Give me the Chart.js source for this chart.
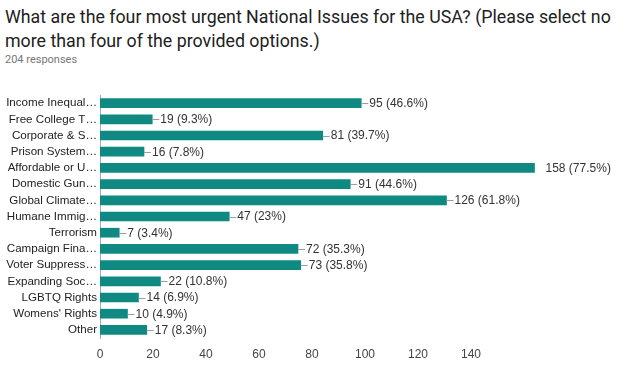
<!DOCTYPE html>
<html>
<head>
<meta charset="utf-8">
<script src="https://cdn.jsdelivr.net/npm/chart.js@4"></script>
<style>
  body { margin: 0; background: #fff; width: 621px; height: 367px; overflow: hidden; position: relative; }
  .title { position: absolute; left: 5px; top: 5px; font-family: Roboto, sans-serif; font-size: 17.8px; line-height: 24px; color: #212121; white-space: nowrap; }
  .sub { position: absolute; left: 5px; top: 53px; font-family: Roboto, sans-serif; font-size: 11px; color: #777; }
  .wrap { position: absolute; left: 0; top: 80px; width: 621px; height: 287px; }
</style>
</head>
<body>
<div class="title">What are the four most urgent National Issues for the USA? (Please select no<br>more than four of the provided options.)</div>
<div class="sub">204 responses</div>
<div class="wrap"><canvas id="issuesChart"></canvas></div>
<script>
// =====================================
// Data
// =====================================
const issueLabels = [
    "Income Inequal…", "Free College T…", "Corporate & S…", "Prison System…",
    "Affordable or U…", "Domestic Gun…", "Global Climate…", "Humane Immig…",
    "Terrorism", "Campaign Fina…", "Voter Suppress…", "Expanding Soc…",
    "LGBTQ Rights", "Womens' Rights", "Other"
];
const responseCounts = [95, 19, 81, 16, 158, 91, 126, 47, 7, 72, 73, 22, 14, 10, 17];
const responsePercents = ["46.6", "9.3", "39.7", "7.8", "77.5", "44.6", "61.8", "23", "3.4", "35.3", "35.8", "10.8", "6.9", "4.9", "8.3"];
const tickValues = [0, 20, 40, 60, 80, 100, 120, 140];

const BAR_MAX = 180;
// tick labels in the original are spaced slightly tighter than the bars
const LABEL_MAX = BAR_MAX * 2.75 / 2.65;

// =====================================
// Value labels with leader line
// =====================================
const valueLabels = {
    id: "valueLabels",
    afterDatasetsDraw(chart) {
        const ctx = chart.ctx;
        const meta = chart.getDatasetMeta(0);
        const top = Math.max(...responseCounts);
        ctx.save();
        ctx.font = "12px 'Liberation Sans', Arial, sans-serif";
        ctx.textBaseline = "middle";
        meta.data.forEach((bar, i) => {
            const v = responseCounts[i];
            let x = bar.x;
            if (v === top) {
                x += 11;
            } else {
                ctx.strokeStyle = "#9e9e9e";
                ctx.lineWidth = 1;
                ctx.beginPath();
                ctx.moveTo(x, Math.round(bar.y) + 0.5);
                ctx.lineTo(x + 7, Math.round(bar.y) + 0.5);
                ctx.stroke();
                x += 8;
            }
            ctx.fillStyle = "#333";
            ctx.fillText(v + " (" + responsePercents[i] + "%)", x, bar.y + 0.5);
        });
        ctx.restore();
    }
};

// =====================================
// Issues (horizontal bar chart)
// =====================================
new Chart(document.getElementById("issuesChart"), {
    type: "bar",
    data: {
        labels: issueLabels,
        datasets: [{
            label: "Responses",
            data: responseCounts,
            backgroundColor: "#0e8a83",
            barThickness: 9,
            xAxisID: "x",
            yAxisID: "y"
        }]
    },
    options: {
        indexAxis: "y",
        responsive: true,
        maintainAspectRatio: false,
        animation: false,
        layout: { padding: { left: 0, right: 26, top: 15, bottom: 0 } },
        plugins: {
            legend: { display: false },
            tooltip: { enabled: false }
        },
        scales: {
            x: {
                display: false,
                min: 0,
                max: BAR_MAX
            },
            x2: {
                type: "linear",
                position: "bottom",
                min: 0,
                max: LABEL_MAX,
                grid: { display: false },
                border: { display: false },
                afterFit: s => { s.height = 29; },
                afterBuildTicks: s => { s.ticks = tickValues.map(v => ({ value: v })); },
                ticks: {
                    padding: 1,
                    color: "#444",
                    font: { family: "'Liberation Sans', Arial, sans-serif", size: 12 }
                }
            },
            y: {
                grid: { display: false, drawTicks: false, tickLength: 0 },
                border: { display: true, color: "#aaa", width: 1 },
                afterFit: s => { s.width = 100; },
                ticks: {
                    padding: 3,
                    color: "#222",
                    autoSkip: false,
                    font: { family: "'Liberation Sans', Arial, sans-serif", size: 11.6 }
                }
            }
        }
    },
    plugins: [valueLabels]
});
</script>
</body>
</html>
